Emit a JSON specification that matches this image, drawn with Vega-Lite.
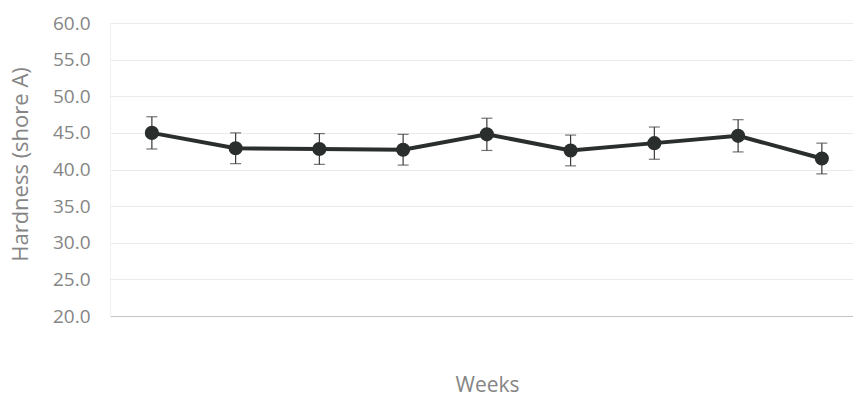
{
  "$schema": "https://vega.github.io/schema/vega-lite/v6.json",
  "width": 743,
  "height": 293,
  "autosize": {"type": "none"},
  "padding": {"left": 110, "top": 23, "right": 0, "bottom": 81},
  "background": "white",
  "config": {
    "view": {"stroke": null},
    "font": "Open Sans",
    "axis": {"labelFont": "Open Sans", "titleFont": "Open Sans"}
  },
  "data": {
    "values": [
      {"week": 1, "hardness": 45.0, "sd": 2.2},
      {"week": 2, "hardness": 42.9, "sd": 2.1},
      {"week": 3, "hardness": 42.8, "sd": 2.1},
      {"week": 4, "hardness": 42.7, "sd": 2.1},
      {"week": 5, "hardness": 44.8, "sd": 2.2},
      {"week": 6, "hardness": 42.6, "sd": 2.1},
      {"week": 7, "hardness": 43.6, "sd": 2.2},
      {"week": 8, "hardness": 44.6, "sd": 2.2},
      {"week": 9, "hardness": 41.5, "sd": 2.1}
    ]
  },
  "encoding": {
    "x": {
      "field": "week",
      "type": "quantitative",
      "scale": {"domain": [0.5, 9.372], "nice": false, "zero": false},
      "axis": {
        "title": "Weeks",
        "titleFontSize": 21,
        "titleFontWeight": "normal",
        "titleColor": "#858585",
        "titleX": 377,
        "titleY": 79,
        "titleBaseline": "bottom",
        "labels": false,
        "ticks": false,
        "grid": false,
        "domain": true,
        "domainColor": "#c4c4c4",
        "domainWidth": 1.2
      }
    },
    "y": {
      "field": "hardness",
      "type": "quantitative",
      "scale": {"domain": [20, 60], "nice": false, "zero": false},
      "axis": {
        "title": "Hardness (shore A)",
        "titleFontSize": 22,
        "titleFontWeight": "normal",
        "titleColor": "#858585",
        "titleX": -100,
        "titleY": 141,
        "titleBaseline": "top",
        "values": [20, 25, 30, 35, 40, 45, 50, 55, 60],
        "format": ".1f",
        "labelFontSize": 19,
        "labelColor": "#858585",
        "labelPadding": 20,
        "labelOverlap": false,
        "labelBound": false,
        "labelFlush": false,
        "ticks": false,
        "domain": true,
        "domainColor": "#f0f0f0",
        "gridColor": "#ebebeb",
        "gridWidth": 1
      }
    }
  },
  "layer": [
    {
      "mark": {"type": "errorbar", "ticks": {"size": 11, "thickness": 1.2, "color": "#3a3a3a"}, "rule": {"strokeWidth": 1.2, "color": "#3a3a3a"}},
      "encoding": {"yError": {"field": "sd"}}
    },
    {
      "mark": {"type": "line", "color": "#2a2f2d", "strokeWidth": 4}
    },
    {
      "mark": {"type": "point", "filled": true, "color": "#2a2f2d", "size": 200, "opacity": 1}
    }
  ]
}
